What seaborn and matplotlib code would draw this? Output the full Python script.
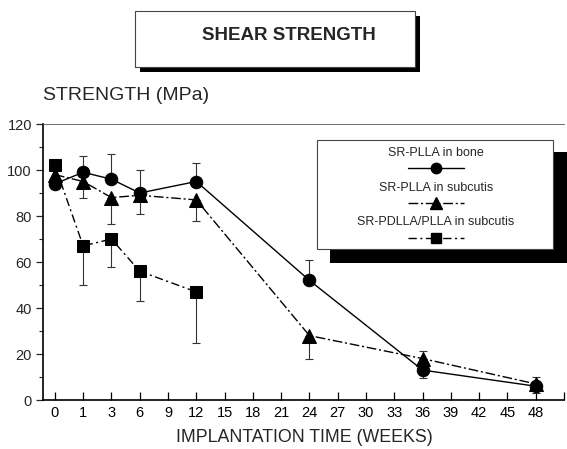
import matplotlib
matplotlib.use("Agg")
import matplotlib.pyplot as plt
import numpy as np
import pandas as pd
import seaborn as sns
from matplotlib.patches import Rectangle
from matplotlib.lines import Line2D

# ---------------- data ----------------
tick_weeks = [0, 1, 3, 6, 9, 12, 15, 18, 21, 24, 27, 30, 33, 36, 39, 42, 45, 48]
y_ticks = [0, 20, 40, 60, 80, 100, 120]

series_names = ["SR-PLLA in bone", "SR-PLLA in subcutis", "SR-PDLLA/PLLA in subcutis"]

bone_weeks = [0, 1, 3, 6, 12, 24, 36, 48]
bone_vals = [94, 99, 96, 90, 95, 52, 13, 6]
bone_err_low = [0, 0, 0, 0, 0, 0, 3.5, 3]
bone_err_high = [0, 7, 11, 10, 8, 9, 0, 0]

sub_weeks = [0, 1, 3, 6, 12, 24, 36, 48]
sub_vals = [98, 95, 88, 89, 87, 28, 18, 7]
sub_err_low = [0, 7, 11.5, 8, 9, 10, 0, 0]
sub_err_high = [0, 0, 0, 0, 0, 0, 3.5, 3]

pd_weeks = [0, 1, 3, 6, 12]
pd_vals = [102, 67, 70, 56, 47]
pd_err_low = [0, 17, 12, 13, 22]
pd_err_high = [0, 0, 0, 0, 0]

# ---------------- style ----------------
sns.set_style("ticks")
plt.rcParams["font.family"] = ["Liberation Sans", "DejaVu Sans"]

W, H = 567, 449
fig = plt.figure(figsize=(W / 100, H / 100), dpi=100)


def fx(x):
    return x / W


def fy(y):
    return 1 - y / H


ax_left, ax_right, ax_top, ax_bottom = 43, 564, 124, 400
ax = fig.add_axes([fx(ax_left), fy(ax_bottom), (ax_right - ax_left) / W, (ax_bottom - ax_top) / H])
ax.set_facecolor("white")

styles = [
    dict(marker="o", linestyle="-", ms=9, lms=7.5),
    dict(marker="^", linestyle=(0, (7, 2, 1.5, 2)), ms=9.5, lms=8),
    dict(marker="s", linestyle=(0, (6, 2.5, 1.5, 2.5)), ms=8, lms=6.5),
]
datasets = [
    (bone_weeks, bone_vals, bone_err_low, bone_err_high),
    (sub_weeks, sub_vals, sub_err_low, sub_err_high),
    (pd_weeks, pd_vals, pd_err_low, pd_err_high),
]

for (weeks, vals, lo, hi), st, name in zip(datasets, styles, series_names):
    pos = [tick_weeks.index(w) for w in weeks]
    df = pd.DataFrame({"pos": pos, "val": vals})
    lo_a = np.array(lo, dtype=float)
    hi_a = np.array(hi, dtype=float)
    mask = (lo_a + hi_a) > 0
    ax.errorbar(np.array(pos)[mask], np.array(vals)[mask],
                yerr=[lo_a[mask], hi_a[mask]], fmt="none",
                ecolor="#333333", elinewidth=0.8, capsize=3, capthick=0.8, zorder=2)
    sns.lineplot(data=df, x="pos", y="val", ax=ax, color="black",
                 marker=st["marker"], markersize=st["ms"], markeredgecolor="black",
                 markerfacecolor="black", linewidth=1.0, linestyle=st["linestyle"],
                 legend=False, zorder=3)

ax.set_xlim(-0.42, 18.0)
ax.set_ylim(0, 120)
ax.set_xticks(range(len(tick_weeks)))
ax.set_xticklabels([str(w) for w in tick_weeks], fontsize=10.5)
ax.set_xticks([18], minor=True)
ax.set_yticks(y_ticks)
ax.set_yticklabels([str(v) for v in y_ticks], fontsize=10.5)
ax.set_yticks([10, 30, 50, 70, 90, 110], minor=True)
ax.tick_params(axis="x", which="both", direction="in", length=6, width=0.9, pad=4, colors="black")
ax.tick_params(axis="y", which="major", direction="out", length=5, width=0.9, pad=3)
ax.tick_params(axis="y", which="minor", direction="out", length=3, width=0.8)
ax.set_xlabel("")
ax.set_ylabel("")
for s in ["left", "bottom"]:
    ax.spines[s].set_linewidth(1.2)
    ax.spines[s].set_color("black")
ax.spines["top"].set_linewidth(0.6)
ax.spines["top"].set_color("#555555")
ax.spines["right"].set_visible(False)

# axis titles
fig.text(fx(43), fy(96), "STRENGTH (MPa)", fontsize=14, ha="left", va="center")
fig.text(fx(304), fy(437), "IMPLANTATION TIME (WEEKS)", fontsize=12.8, ha="center", va="center")

# title box with shadow
fig.add_artist(Rectangle((fx(140), fy(72)), (420 - 140) / W, (72 - 16) / H,
                         transform=fig.transFigure, facecolor="black", edgecolor="none", zorder=5))
fig.add_artist(Rectangle((fx(135), fy(67)), (415 - 135) / W, (67 - 11) / H,
                         transform=fig.transFigure, facecolor="white", edgecolor="#444444",
                         linewidth=0.8, zorder=6))
fig.text(fx(289), fy(36), "SHEAR STRENGTH", fontsize=13.5, fontweight="bold",
         ha="center", va="center", zorder=7)

# legend box with shadow
fig.add_artist(Rectangle((fx(330), fy(263)), (567 - 330) / W, (263 - 152) / H,
                         transform=fig.transFigure, facecolor="black", edgecolor="none", zorder=8))
fig.add_artist(Rectangle((fx(317), fy(249)), (553 - 317) / W, (249 - 140) / H,
                         transform=fig.transFigure, facecolor="white", edgecolor="#444444",
                         linewidth=0.8, zorder=9))
leg_text_y = [153, 188, 222]
leg_handle_y = [168, 203, 238]
cx = 436
for name, st, ty, hy in zip(series_names, styles, leg_text_y, leg_handle_y):
    fig.text(fx(cx), fy(ty), name, fontsize=9, ha="center", va="center", zorder=10)
    fig.add_artist(Line2D([fx(cx - 28), fx(cx + 28)], [fy(hy), fy(hy)], transform=fig.transFigure,
                          color="black", linewidth=1.0, linestyle=st["linestyle"], zorder=10))
    fig.add_artist(Line2D([fx(cx)], [fy(hy)], transform=fig.transFigure, color="black",
                          marker=st["marker"], markersize=st["lms"], linestyle="none", zorder=11))

fig.savefig("out.png", dpi=100, facecolor="white")
